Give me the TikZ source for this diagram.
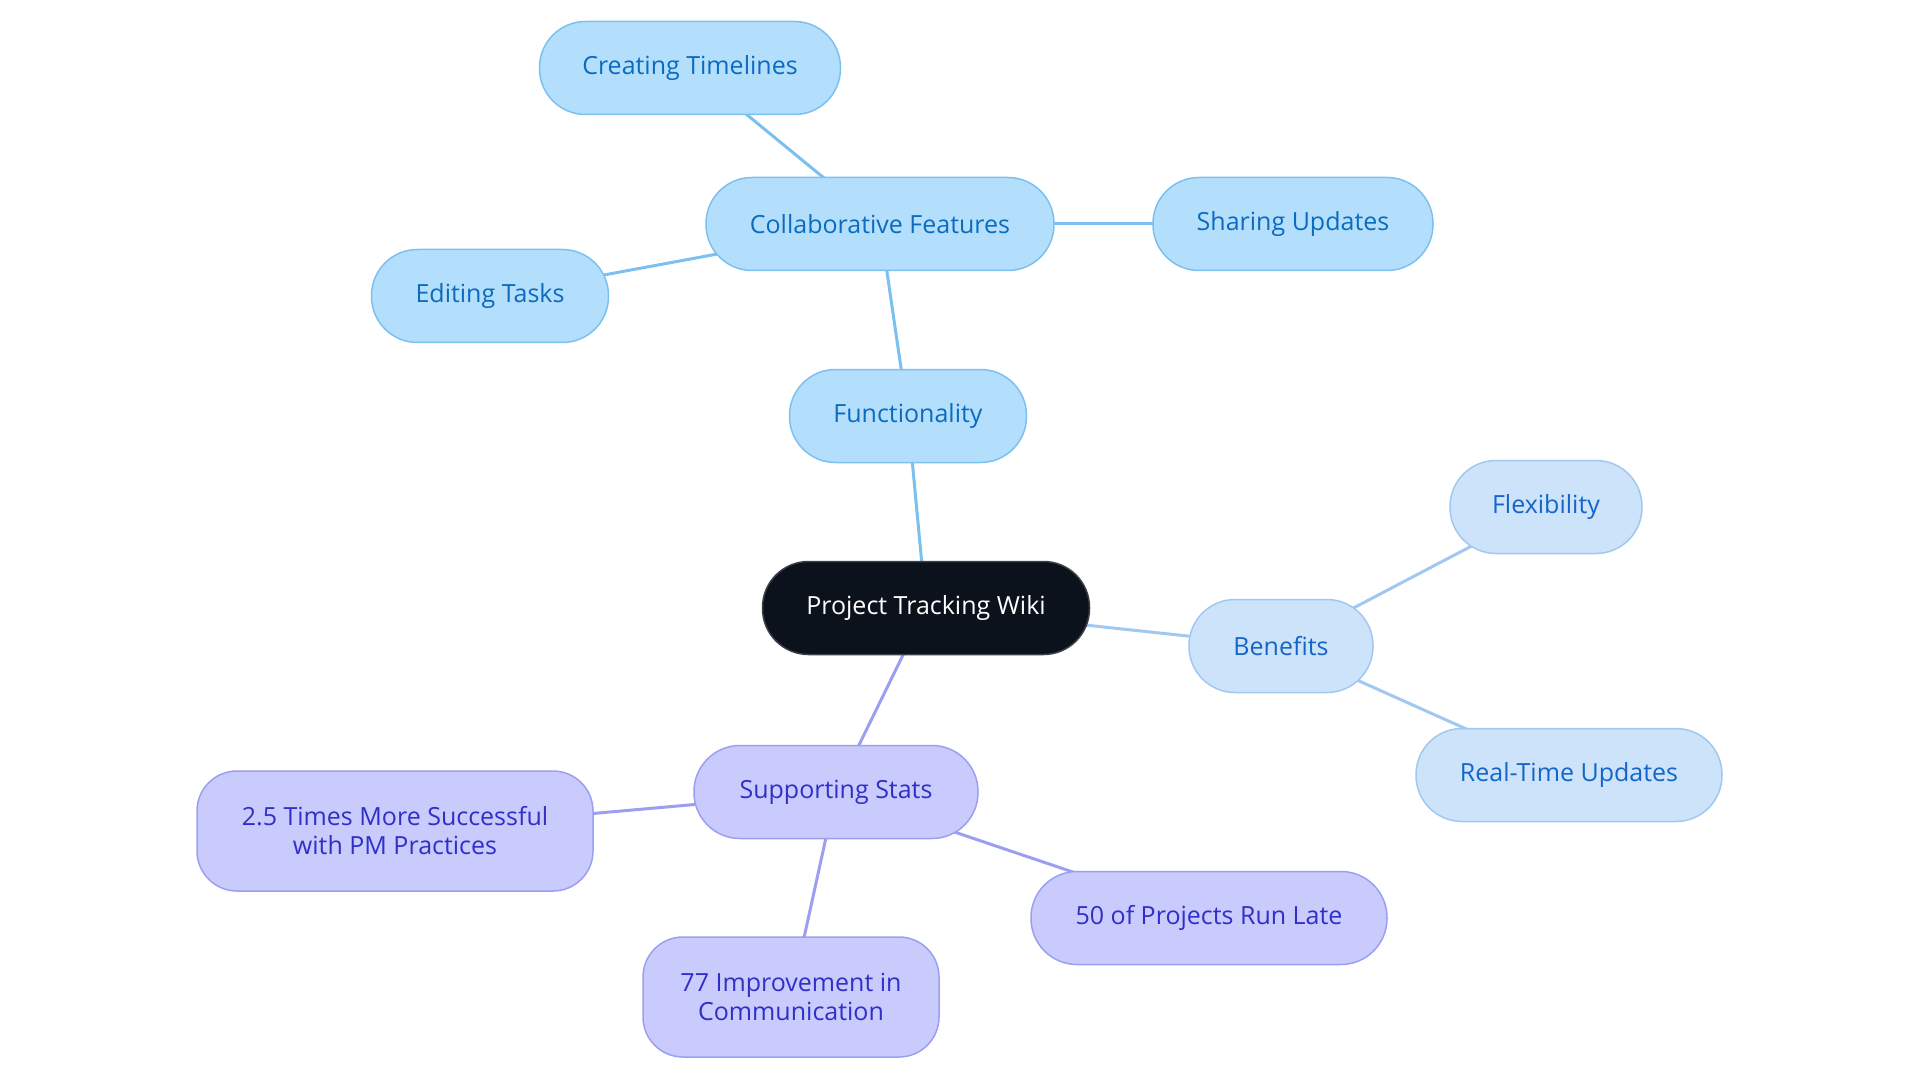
\documentclass[tikz,border=0pt]{standalone}
\usepackage{fontspec}
\setmainfont{Open Sans}
\usetikzlibrary{backgrounds}
\definecolor{bfill}{HTML}{B3DFFD}
\definecolor{bdraw}{HTML}{7CC0F0}
\definecolor{btext}{HTML}{0B6BBF}
\definecolor{lfill}{HTML}{CCE3FA}
\definecolor{ldraw}{HTML}{A0C8F0}
\definecolor{ltext}{HTML}{1565C8}
\definecolor{pfill}{HTML}{C8CBFC}
\definecolor{pdraw}{HTML}{9C9FF0}
\definecolor{ptext}{HTML}{3030C8}
\definecolor{rfill}{HTML}{0C121C}
\definecolor{rdraw}{HTML}{3A3F48}
\tikzset{
  base/.style={rectangle, rounded corners=46pt, line width=1.5pt, font=\fontsize{25}{29}\selectfont, align=center, inner sep=0pt, minimum height=93pt},
  root/.style={base, fill=rfill, draw=rdraw, text=white},
  bnode/.style={base, fill=bfill, draw=bdraw, text=btext},
  lnode/.style={base, fill=lfill, draw=ldraw, text=ltext},
  pnode/.style={base, fill=pfill, draw=pdraw, text=ptext},
  pbig/.style={pnode, rounded corners=40pt, minimum height=120pt},
  bedge/.style={draw=bdraw, line width=3pt},
  ledge/.style={draw=ldraw, line width=3pt},
  pedge/.style={draw=pdraw, line width=3pt},
}
\begin{document}
\begin{tikzpicture}[x=1pt,y=-1pt]
\useasboundingbox (0,0) rectangle (1920,1083);
\node[root, minimum width=327pt] (root) at (926,608) {Project Tracking Wiki};
\node[bnode, minimum width=237pt] (func) at (908,416) {Functionality};
\node[bnode, minimum width=348pt] (collab) at (880,224) {Collaborative Features};
\node[bnode, minimum width=301pt] (time) at (690,68) {Creating Timelines};
\node[bnode, minimum width=280pt] (share) at (1293,224) {Sharing Updates};
\node[bnode, minimum width=237pt] (edit) at (490,296) {Editing Tasks};
\node[lnode, minimum width=184pt] (ben) at (1281,646) {Benefits};
\node[lnode, minimum width=192pt] (flex) at (1546,507) {Flexibility};
\node[lnode, minimum width=306pt] (rt) at (1569,775) {Real-Time Updates};
\node[pnode, minimum width=284pt] (stats) at (836,792) {Supporting Stats};
\node[pbig, minimum width=396pt] (pm) at (395,831) {2.5 Times More Successful\\with PM Practices};
\node[pbig, minimum width=296pt] (comm) at (791,997) {77 Improvement in\\Communication};
\node[pnode, minimum width=356pt] (late) at (1209,918) {50 of Projects Run Late};
\begin{scope}[on background layer]
\draw[bedge] (root.center) -- (func.center);
\draw[bedge] (func.center) -- (collab.center);
\draw[bedge] (collab.center) -- (time.center);
\draw[bedge] (collab.center) -- (share.center);
\draw[bedge] (collab.center) -- (edit.center);
\draw[ledge] (root.center) -- (ben.center);
\draw[ledge] (ben.center) -- (flex.center);
\draw[ledge] (ben.center) -- (rt.center);
\draw[pedge] (root.center) -- (stats.center);
\draw[pedge] (stats.center) -- (pm.center);
\draw[pedge] (stats.center) -- (comm.center);
\draw[pedge] (stats.center) -- (late.center);
\end{scope}
\end{tikzpicture}
\end{document}
